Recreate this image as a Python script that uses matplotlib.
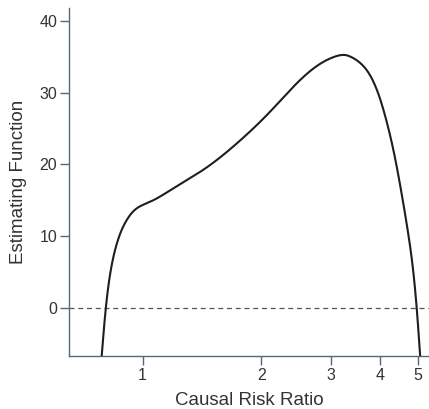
import numpy as np
import matplotlib.pyplot as plt

plt.rcParams['font.family'] = ['Liberation Sans', 'DejaVu Sans']

# values
risk_ratio = [0.788, 0.807, 0.828, 0.861, 0.913, 0.968, 1.046, 1.176, 1.43, 1.74,
              2.11, 2.57, 3.06, 3.28, 3.38, 3.65, 3.87, 4.10, 4.31, 4.48, 4.66,
              4.80, 4.96, 5.06]
estimating = [-6.6, 0.0, 4.8, 9.0, 12.3, 13.9, 14.8, 16.4, 19.3, 23.0,
              27.4, 32.3, 35.0, 35.25, 35.0, 33.6, 31.3, 27.3, 22.5, 17.8, 12.3,
              7.6, 0.0, -6.6]

x_ticks = [1, 2, 3, 4, 5]
y_ticks = [0, 10, 20, 30, 40]

spine_col = '#4f6c78'
text_col = '#333333'


def spline(t, v, tt):
    # natural cubic spline through (t, v), evaluated at tt
    n = len(t)
    h = np.diff(t)
    A = np.zeros((n, n))
    b = np.zeros(n)
    A[0, 0] = A[-1, -1] = 1
    for i in range(1, n - 1):
        A[i, i - 1] = h[i - 1]
        A[i, i] = 2 * (h[i - 1] + h[i])
        A[i, i + 1] = h[i]
        b[i] = 3 * ((v[i + 1] - v[i]) / h[i] - (v[i] - v[i - 1]) / h[i - 1])
    c = np.linalg.solve(A, b)
    k = np.clip(np.searchsorted(t, tt) - 1, 0, n - 2)
    d = tt - t[k]
    bb = (v[k + 1] - v[k]) / h[k] - h[k] * (2 * c[k] + c[k + 1]) / 3
    dd = (c[k + 1] - c[k]) / (3 * h[k])
    return v[k] + bb * d + c[k] * d ** 2 + dd * d ** 3


# parametric spline in roughly screen-proportional coords
u = np.log(risk_ratio) * 170.7
v = np.array(estimating) * 7.175
s = np.concatenate([[0], np.cumsum(np.hypot(np.diff(u), np.diff(v)))])
ss = np.linspace(0, s[-1], 800)
cu = spline(s, u, ss)
cv = spline(s, v, ss)

fig = plt.figure(figsize=(4.29, 4.09), dpi=100)
ax = fig.add_axes([0.161, 0.130, 0.839, 0.850])

ax.plot(np.exp(cu / 170.7), cv / 7.175, color='#1e1e1e', lw=1.5, zorder=3)
ax.axhline(0, color='#555555', lw=0.9, ls=(0, (4, 3)))

ax.set_xscale('log')
ax.set_xlim(0.651, 5.33)
ax.set_ylim(-6.7, 41.8)
ax.set_xticks(x_ticks)
ax.set_xticklabels([str(v) for v in x_ticks])
ax.minorticks_off()
ax.set_yticks(y_ticks)

for side in ['top', 'right']:
    ax.spines[side].set_visible(False)
for side in ['left', 'bottom']:
    ax.spines[side].set_color(spine_col)
    ax.spines[side].set_linewidth(1.0)

ax.tick_params(axis='both', direction='out', length=6.5, width=1.0,
               color=spine_col, labelcolor=text_col, labelsize=11.5, pad=2)

ax.set_xlabel('Causal Risk Ratio', fontsize=13.5, color=text_col, labelpad=7)
ax.set_ylabel('Estimating Function', fontsize=13.5, color=text_col, labelpad=9)

fig.savefig('out.png', dpi=100)
